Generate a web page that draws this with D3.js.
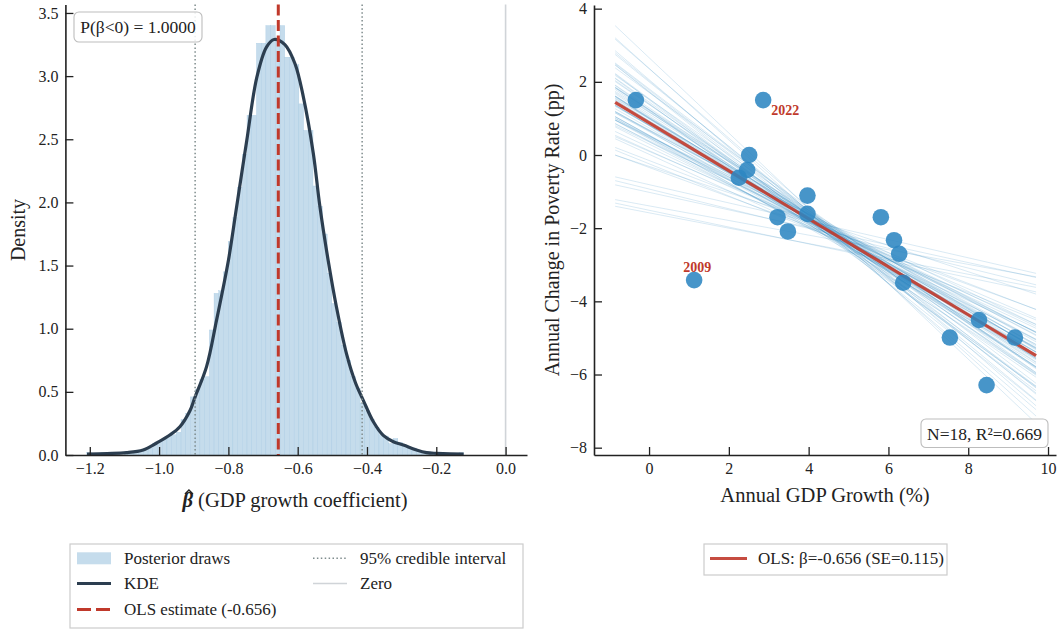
<!DOCTYPE html>
<html>
<head>
<meta charset="utf-8">
<script src="https://cdn.jsdelivr.net/npm/d3@7"></script>
<style>
  body { margin: 0; background: #fff; }
  svg text { font-family: "Liberation Serif", "Times New Roman", serif; fill: #222; }
</style>
</head>
<body>
<svg id="chart" width="1060" height="630"></svg>
<script>
// ---------- Posterior of the GDP-growth coefficient ----------
const histStart = -1.2086;
const histBinWidth = 0.0136;
const histDensity = [
  0.018, 0, 0, 0.018, 0, 0.018, 0.018, 0, 0.018, 0.018,
  0.018, 0.037, 0.037, 0.055, 0.092, 0.11, 0.13, 0.15, 0.16, 0.18,
  0.28, 0.33, 0.46, 0.52, 0.60, 0.62, 0.99, 1.28, 1.30, 1.45,
  1.69, 1.88, 2.12, 2.38, 2.69, 2.69, 3.26, 3.26, 3.40, 3.40,
  3.30, 3.40, 3.15, 3.15, 3.09, 2.78, 2.57, 2.57, 2.13, 1.97,
  1.75, 1.44, 1.20, 1.05, 0.87, 0.75, 0.62, 0.53, 0.41, 0.35,
  0.28, 0.22, 0.16, 0.15, 0.09, 0.13, 0.10, 0.07, 0.055, 0.055,
  0.037, 0.018, 0.018, 0.018, 0, 0.018, 0, 0, 0, 0.018
];
const kdeX = [-1.208, -1.15, -1.094, -1.046, -1.007, -0.969, -0.940, -0.911, -0.896, -0.863,
  -0.834, -0.800, -0.776, -0.747, -0.718, -0.690, -0.668, -0.637, -0.608, -0.584,
  -0.555, -0.536, -0.512, -0.488, -0.459, -0.433, -0.411, -0.382, -0.353, -0.324,
  -0.295, -0.257, -0.228, -0.199, -0.160, -0.121];
const kdeY = [0.008, 0.012, 0.019, 0.040, 0.095, 0.158, 0.224, 0.35, 0.46, 0.70,
  1.07, 1.54, 1.97, 2.49, 2.99, 3.23, 3.29, 3.25, 3.10, 2.84,
  2.39, 1.97, 1.54, 1.17, 0.80, 0.57, 0.435, 0.265, 0.155, 0.105,
  0.079, 0.040, 0.019, 0.013, 0.009, 0.008];
const olsBeta = -0.656;
const olsSE = 0.115;
const credibleInterval = [-0.896, -0.414];
const probNegative = 1.0;
const betaTicks = [-1.2, -1.0, -0.8, -0.6, -0.4, -0.2, 0.0];
const densityTicks = [0, 0.5, 1.0, 1.5, 2.0, 2.5, 3.0, 3.5];

// ---------- Poverty change vs GDP growth ----------
const gdpGrowth = [-0.33, 2.86, 2.51, 2.46, 2.25, 3.97, 3.97, 3.22, 3.48, 5.81, 6.14, 6.27, 6.37, 1.13, 8.27, 7.54, 9.17, 8.46];
const povertyChange = [1.50, 1.50, 0.00, -0.41, -0.62, -1.11, -1.61, -1.70, -2.09, -1.70, -2.33, -2.70, -3.49, -3.42, -4.51, -4.99, -4.99, -6.29];
const labelIndex = [1, 13];
const labelText = ["2022", "2009"];
const olsIntercept = 0.88;
const fitRange = [-0.85, 9.7];
const rSquared = 0.669;
const postAlpha = [0.36, 1.07, 0.82, 1.41, 0.69, 0.93, 1.38, 0.12, 0.53, 1.12,
  1.74, 0.30, 0.99, 1.45, 0.64, 0.99, -0.31, 0.80, 1.81, 0.47,
  1.25, 0.48, 2.03, 0.51, 1.04, 1.20, 0.68, 0.82, 1.71, 0.02,
  1.29, 0.81, 1.72, 0.52, 0.88, 0.81, -0.15, 1.53, 0.54, 1.23,
  2.36, 0.39, 1.02, 1.54, 0.37, 1.02, 0.66, 0.10, 1.23, 1.17,
  2.66, 0.74, 1.24, 0.21, 1.01, 1.00, 2.00, 0.67, 1.18, 0.44,
  2.37, -0.34, 1.78, 0.94, 0.54, 2.06, -0.24, 1.39, 0.49, 1.51,
  -0.81, -0.93, -1.02, -1.39, -1.51, -1.58];
const postBeta = [-0.52, -0.71, -0.63, -0.80, -0.58, -0.67, -0.74, -0.49, -0.61, -0.69,
  -0.85, -0.55, -0.64, -0.77, -0.60, -0.72, -0.36, -0.66, -0.83, -0.57,
  -0.70, -0.62, -0.90, -0.53, -0.68, -0.75, -0.59, -0.65, -0.79, -0.50,
  -0.73, -0.61, -0.87, -0.56, -0.68, -0.64, -0.42, -0.76, -0.60, -0.71,
  -0.95, -0.54, -0.66, -0.81, -0.58, -0.69, -0.63, -0.47, -0.74, -0.67,
  -1.03, -0.62, -0.78, -0.51, -0.70, -0.65, -0.88, -0.57, -0.72, -0.60,
  -0.98, -0.40, -0.84, -0.66, -0.59, -0.93, -0.44, -0.76, -0.55, -0.82,
  -0.25, -0.27, -0.24, -0.20, -0.23, -0.21];
const growthTicks = [0, 2, 4, 6, 8, 10];
const povertyTicks = [-8, -6, -4, -2, 0, 2, 4];

// ---------- palette ----------
const C = {
  hist: "#c5dcec", histEdge: "#a6c9e2", kde: "#2c3e50", red: "#c0392b",
  ci: "#7f8c8d", zero: "#d0d4d8", point: "#2e86c1", ink: "#222"
};

const svg = d3.select("#chart");

function styleAxis(g) {
  g.select(".domain").attr("stroke", C.ink).attr("stroke-width", 1.6);
  g.selectAll(".tick line").attr("stroke", C.ink).attr("stroke-width", 1.3);
  g.selectAll(".tick text").attr("font-size", 16).attr("fill", C.ink);
}

// ================= Left panel =================
const xL = d3.scaleLinear().domain([-1.2704, 0.0618]).range([65.4, 527]);
const yL = d3.scaleLinear().domain([0, 3.567]).range([455, 4.5]);
const left = svg.append("g");

left.append("g").selectAll("rect").data(histDensity).join("rect")
  .attr("x", (d, i) => xL(histStart + i * histBinWidth))
  .attr("width", xL(histBinWidth) - xL(0))
  .attr("y", d => yL(d))
  .attr("height", d => yL(0) - yL(d))
  .attr("fill", C.hist)
  .attr("stroke", C.histEdge)
  .attr("stroke-width", 0.35);

left.append("path")
  .datum(d3.zip(kdeX, kdeY))
  .attr("d", d3.line().x(d => xL(d[0])).y(d => yL(d[1])).curve(d3.curveCatmullRom))
  .attr("fill", "none").attr("stroke", C.kde).attr("stroke-width", 3.2)
  .attr("stroke-linejoin", "round");

left.append("line")
  .attr("x1", xL(0)).attr("x2", xL(0)).attr("y1", yL.range()[1]).attr("y2", yL(0))
  .attr("stroke", C.zero).attr("stroke-width", 1.6);

left.selectAll(".ci").data(credibleInterval).join("line")
  .attr("x1", d => xL(d)).attr("x2", d => xL(d))
  .attr("y1", yL.range()[1]).attr("y2", yL(0))
  .attr("stroke", C.ci).attr("stroke-width", 1.5).attr("stroke-dasharray", "1.5,2.4");

left.append("line")
  .attr("x1", xL(olsBeta)).attr("x2", xL(olsBeta)).attr("y1", yL.range()[1]).attr("y2", yL(0))
  .attr("stroke", C.red).attr("stroke-width", 3).attr("stroke-dasharray", "11,4.5");

left.append("g").attr("transform", `translate(0,${yL(0)})`)
  .call(d3.axisBottom(xL).tickValues(betaTicks).tickFormat(d3.format(".1f"))
    .tickSize(-8).tickSizeOuter(0).tickPadding(8))
  .call(styleAxis);
left.append("g").attr("transform", `translate(${xL.range()[0]},0)`)
  .call(d3.axisLeft(yL).tickValues(densityTicks).tickFormat(d3.format(".1f"))
    .tickSize(-8).tickSizeOuter(0).tickPadding(7))
  .call(styleAxis);

left.append("text")
  .attr("transform", "translate(18,230) rotate(-90)")
  .attr("text-anchor", "middle").attr("dominant-baseline", "central")
  .attr("font-size", 20).text("Density");

// x label: beta with a hat accent, followed by the description
const xlab = left.append("text").attr("x", 295).attr("y", 507)
  .attr("text-anchor", "middle").attr("font-size", 20.5);
xlab.append("tspan").attr("font-style", "italic").attr("font-weight", "bold").text("β");
xlab.append("tspan").text(" (GDP growth coefficient)");
const bExt = xlab.node().getExtentOfChar(0);
const hatX = bExt.x + bExt.width * 0.62, hatY = bExt.y + 1;
left.append("path")
  .attr("d", `M${hatX - 4},${hatY + 4} L${hatX},${hatY} L${hatX + 4},${hatY + 4}`)
  .attr("fill", "none").attr("stroke", C.ink).attr("stroke-width", 1.4)
  .attr("stroke-linejoin", "miter");

// probability annotation
const pBox = left.append("g");
pBox.append("rect").attr("x", 74).attr("y", 12).attr("width", 128).attr("height", 30).attr("rx", 5)
  .attr("fill", "#fff").attr("fill-opacity", 0.85).attr("stroke", "#bdbdbd").attr("stroke-width", 1.1);
pBox.append("text").attr("x", 138).attr("y", 27).attr("text-anchor", "middle")
  .attr("dominant-baseline", "central").attr("font-size", 17.5)
  .text(`P(β<0) = ${probNegative.toFixed(4)}`);

// ================= Right panel =================
const xR = d3.scaleLinear().domain([-1.38, 10.2]).range([594, 1056]);
const yR = d3.scaleLinear().domain([-8.2, 4.1]).range([455, 5]);
const right = svg.append("g");

right.append("g").selectAll("line").data(d3.zip(postAlpha, postBeta)).join("line")
  .attr("x1", xR(fitRange[0])).attr("x2", xR(fitRange[1]))
  .attr("y1", d => yR(d[0] + d[1] * fitRange[0]))
  .attr("y2", d => yR(d[0] + d[1] * fitRange[1]))
  .attr("stroke", C.point).attr("stroke-opacity", 0.2).attr("stroke-width", 0.9);

right.append("line")
  .attr("x1", xR(fitRange[0])).attr("x2", xR(fitRange[1]))
  .attr("y1", yR(olsIntercept + olsBeta * fitRange[0]))
  .attr("y2", yR(olsIntercept + olsBeta * fitRange[1]))
  .attr("stroke", C.red).attr("stroke-opacity", 0.9).attr("stroke-width", 3.2);

right.append("g").selectAll("circle").data(d3.zip(gdpGrowth, povertyChange)).join("circle")
  .attr("cx", d => xR(d[0])).attr("cy", d => yR(d[1])).attr("r", 8.3)
  .attr("fill", C.point).attr("fill-opacity", 0.88);

right.append("g").selectAll("text").data(labelIndex).join("text")
  .attr("x", (d, k) => xR(gdpGrowth[d]) + (k === 0 ? 8 : 3))
  .attr("y", (d, k) => yR(povertyChange[d]) + (k === 0 ? 15 : -8))
  .attr("text-anchor", (d, k) => k === 0 ? "start" : "middle")
  .attr("font-size", 14).attr("font-weight", "bold").style("fill", C.red)
  .text((d, k) => labelText[k]);

right.append("g").attr("transform", `translate(0,${yR.range()[0]})`)
  .call(d3.axisBottom(xR).tickValues(growthTicks).tickFormat(d3.format("d"))
    .tickSize(-8).tickSizeOuter(0).tickPadding(8))
  .call(styleAxis);
right.append("g").attr("transform", `translate(${xR.range()[0]},0)`)
  .call(d3.axisLeft(yR).tickValues(povertyTicks).tickFormat(d3.format("d"))
    .tickSize(-8).tickSizeOuter(0).tickPadding(7))
  .call(styleAxis);

right.append("text")
  .attr("transform", "translate(552,230) rotate(-90)")
  .attr("text-anchor", "middle").attr("dominant-baseline", "central")
  .attr("font-size", 20).text("Annual Change in Poverty Rate (pp)");
right.append("text").attr("x", 825).attr("y", 502).attr("text-anchor", "middle")
  .attr("font-size", 20.5).text("Annual GDP Growth (%)");

const nBox = right.append("g");
nBox.append("rect").attr("x", 921).attr("y", 419).attr("width", 127).attr("height", 28.5).attr("rx", 5)
  .attr("fill", "#fff").attr("fill-opacity", 0.85).attr("stroke", "#bdbdbd").attr("stroke-width", 1.1);
nBox.append("text").attr("x", 984.5).attr("y", 433.5).attr("text-anchor", "middle")
  .attr("dominant-baseline", "central").attr("font-size", 17.5)
  .text(`N=${gdpGrowth.length}, R²=${rSquared.toFixed(3)}`);

// ================= Legends =================
const legL = svg.append("g");
legL.append("rect").attr("x", 70).attr("y", 544).attr("width", 453).attr("height", 84)
  .attr("fill", "#fff").attr("stroke", "#cccccc").attr("stroke-width", 1.2);
const legItems = [
  { kind: "patch", col: 0, row: 0, text: "Posterior draws" },
  { kind: "kde", col: 0, row: 1, text: "KDE" },
  { kind: "ols", col: 0, row: 2, text: `OLS estimate (${olsBeta.toFixed(3)})` },
  { kind: "ci", col: 1, row: 0, text: "95% credible interval" },
  { kind: "zero", col: 1, row: 1, text: "Zero" }
];
const colX = [77, 313], rowY = [558.3, 583.5, 609.5];
legItems.forEach(it => {
  const x0 = colX[it.col], y0 = rowY[it.row];
  if (it.kind === "patch") {
    legL.append("rect").attr("x", x0).attr("y", y0 - 6).attr("width", 34).attr("height", 12)
      .attr("fill", C.hist);
  } else {
    const sty = {
      kde: [C.kde, 3.2, null], ols: [C.red, 3, "14,5"],
      ci: [C.ci, 1.5, "1.5,2.4"], zero: [C.zero, 1.6, null]
    }[it.kind];
    legL.append("line").attr("x1", x0).attr("x2", x0 + 34).attr("y1", y0).attr("y2", y0)
      .attr("stroke", sty[0]).attr("stroke-width", sty[1]).attr("stroke-dasharray", sty[2]);
  }
  legL.append("text").attr("x", x0 + 47).attr("y", y0).attr("dominant-baseline", "central")
    .attr("font-size", 17).text(it.text);
});

const legR = svg.append("g");
legR.append("rect").attr("x", 704).attr("y", 544).attr("width", 243).attr("height", 31)
  .attr("fill", "#fff").attr("stroke", "#cccccc").attr("stroke-width", 1.2);
legR.append("line").attr("x1", 710).attr("x2", 747).attr("y1", 558.5).attr("y2", 558.5)
  .attr("stroke", C.red).attr("stroke-opacity", 0.9).attr("stroke-width", 3.2);
legR.append("text").attr("x", 758).attr("y", 558.5).attr("dominant-baseline", "central")
  .attr("font-size", 17).text(`OLS: β=${olsBeta.toFixed(3)} (SE=${olsSE.toFixed(3)})`);
</script>
</body>
</html>
